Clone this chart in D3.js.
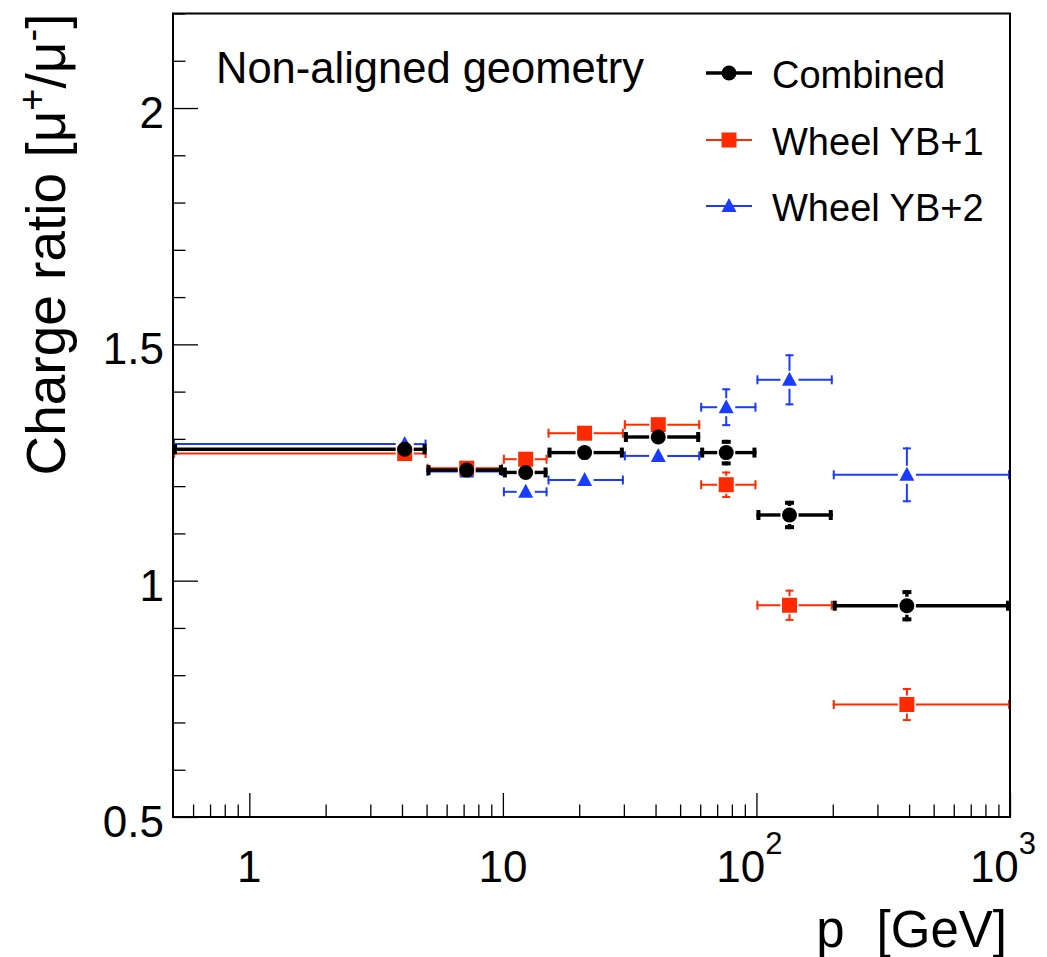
<!DOCTYPE html>
<html>
<head>
<meta charset="utf-8">
<script src="https://cdn.jsdelivr.net/npm/d3@7"></script>
<style>
  html, body { margin: 0; padding: 0; background: #fff; }
  svg { display: block; font-family: "Liberation Sans", Arial, Helvetica, sans-serif; }
</style>
</head>
<body>
<div id="chart"></div>
<script>
// ── Data ────────────────────────────────────────────────────────
const binLow  = [0.5, 5, 10, 15, 30, 60, 100, 200];
const binHigh = [5, 10, 15, 30, 60, 100, 200, 1000];
const pMean   = [4.1, 7.2, 12.3, 21, 41, 76, 135, 392];

const combinedRatio = [1.278, 1.234, 1.229, 1.271, 1.304, 1.271, 1.139, 0.947];
const combinedErr   = [0.008, 0.008, 0.010, 0.010, 0.012, 0.027, 0.030, 0.033];
const yb1Ratio      = [1.269, 1.238, 1.257, 1.312, 1.330, 1.203, 0.948, 0.738];
const yb1Err        = [0.008, 0.010, 0.012, 0.012, 0.014, 0.028, 0.033, 0.035];
const yb2Ratio      = [1.289, 1.231, 1.188, 1.213, 1.264, 1.367, 1.425, 1.224];
const yb2Err        = [0.008, 0.010, 0.012, 0.012, 0.021, 0.040, 0.054, 0.058];

const seriesNames = ['Combined', 'Wheel YB+1', 'Wheel YB+2'];
const yMajorTicks = [0.5, 1, 1.5, 2];
const yMinorTicks = [0.6, 0.7, 0.8, 0.9, 1.1, 1.2, 1.3, 1.4, 1.6, 1.7, 1.8, 1.9, 2.1, 2.2];
const xMajorTicks = [1, 10, 100, 1000];
const xTickLabels = [['1', ''], ['10', ''], ['10', '2'], ['10', '3']];
const xMinorTicks = [0.6, 0.7, 0.8, 0.9, 2, 3, 4, 5, 6, 7, 8, 9,
  20, 30, 40, 50, 60, 70, 80, 90, 200, 300, 400, 500, 600, 700, 800, 900];

// ── Layout ──────────────────────────────────────────────────────
const W = 1047, H = 957;
const frame = { left: 173, right: 1010, top: 13.5, bottom: 817 };

const styles = [
  { color: '#000000', width: 3.4, cap: 4, marker: 'circle' },
  { color: '#ff2a00', width: 2, cap: 2, marker: 'square' },
  { color: '#1a3cff', width: 2, cap: 2, marker: 'triangle' },
];

const series = [
  { name: seriesNames[1], ratio: yb1Ratio, err: yb1Err, style: styles[1] },
  { name: seriesNames[2], ratio: yb2Ratio, err: yb2Err, style: styles[2] },
  { name: seriesNames[0], ratio: combinedRatio, err: combinedErr, style: styles[0] },
];

const svg = d3.select('#chart').append('svg')
  .attr('width', W).attr('height', H)
  .attr('viewBox', `0 0 ${W} ${H}`);

const x = d3.scaleLog().domain([0.5, 1000]).range([frame.left, frame.right]);
const y = d3.scaleLinear().domain([0.5, 2.2]).range([frame.bottom, frame.top]);

// ── Markers ─────────────────────────────────────────────────────
const HALF = 7.5;

function drawMarker(g, type, cx, cy, color) {
  if (type === 'circle') {
    g.append('circle').attr('cx', cx).attr('cy', cy).attr('r', HALF).attr('fill', color);
  } else if (type === 'square') {
    g.append('rect').attr('x', cx - HALF).attr('y', cy - HALF)
      .attr('width', 2 * HALF).attr('height', 2 * HALF).attr('fill', color);
  } else {
    const path = d3.path();
    path.moveTo(cx, cy - 8);
    path.lineTo(cx + 7.5, cy + 6);
    path.lineTo(cx - 7.5, cy + 6);
    path.closePath();
    g.append('path').attr('d', path.toString()).attr('fill', color);
  }
}

// ── Data points with error bars ─────────────────────────────────
const gap = 1.5;
const plot = svg.append('g').attr('class', 'points');

series.forEach(s => {
  const g = plot.append('g').attr('class', 'series');
  const st = s.style;
  const capLen = st.marker === 'circle' ? 10 : 9;

  pMean.forEach((p, i) => {
    const px = x(p), py = y(s.ratio[i]);
    const xl = x(binLow[i]), xh = x(binHigh[i]);

    const line = (x1, y1, x2, y2, w) => g.append('line')
      .attr('x1', x1).attr('y1', y1).attr('x2', x2).attr('y2', y2)
      .attr('stroke', st.color).attr('stroke-width', w);

    // horizontal bars (gap around the marker)
    line(xl, py, px - HALF - gap, py, st.width);
    line(px + HALF + gap, py, xh, py, st.width);
    // end caps
    line(xl + st.cap / 2, py - capLen / 2, xl + st.cap / 2, py + capLen / 2, st.cap);
    line(xh - st.cap / 2, py - capLen / 2, xh - st.cap / 2, py + capLen / 2, st.cap);

    // vertical error bars
    const ey = y(s.ratio[i] - s.err[i]) - py;
    if (ey > HALF + gap + 1) {
      [-1, 1].forEach(d => {
        line(px, py + d * (HALF + gap), px, py + d * ey, st.width);
        line(px - capLen / 2 + 0.5, py + d * (ey - st.cap / 2), px + capLen / 2 - 0.5, py + d * (ey - st.cap / 2), st.cap);
      });
    }

    drawMarker(g, st.marker, px, py, st.color);
  });
});

// ── Frame and axes ──────────────────────────────────────────────
svg.append('rect')
  .attr('x', frame.left).attr('y', frame.top)
  .attr('width', frame.right - frame.left).attr('height', frame.bottom - frame.top)
  .attr('fill', 'none').attr('stroke', '#000').attr('stroke-width', 2);

const yAxisG = svg.append('g').attr('transform', `translate(${frame.left},0)`);
yAxisG.call(d3.axisLeft(y).tickValues(yMajorTicks).tickSize(-25).tickFormat(''));
yAxisG.append('g').call(d3.axisLeft(y).tickValues(yMinorTicks).tickSize(-12.5).tickFormat(''));
yAxisG.selectAll('.domain').remove();
yAxisG.selectAll('.tick line').attr('stroke', '#000').attr('stroke-width', 1.3);

const xAxisG = svg.append('g').attr('transform', `translate(0,${frame.bottom})`);
xAxisG.call(d3.axisBottom(x).tickValues(xMajorTicks).tickSize(-24).tickFormat(''));
xAxisG.append('g').call(d3.axisBottom(x).tickValues(xMinorTicks).tickSize(-12.5).tickFormat(''));
xAxisG.selectAll('.domain').remove();
xAxisG.selectAll('.tick line').attr('stroke', '#000').attr('stroke-width', 1.3);

// tick labels
svg.append('g').selectAll('text').data(yMajorTicks).join('text')
  .attr('x', 164).attr('y', d => y(d) + 20)
  .attr('text-anchor', 'end').attr('font-size', 44)
  .text(d => d);

const xl = svg.append('g').selectAll('text').data(xMajorTicks).join('text')
  .attr('x', (d, i) => x(d) + (xTickLabels[i][1] ? -7 : 0))
  .attr('y', 882)
  .attr('text-anchor', 'middle').attr('font-size', 44);
xl.append('tspan').text((d, i) => xTickLabels[i][0]);
xl.append('tspan').attr('dy', -28).attr('font-size', 31).text((d, i) => xTickLabels[i][1]);

// axis titles
const xt = svg.append('text')
  .attr('x', 1007).attr('y', 947)
  .attr('text-anchor', 'end').attr('font-size', 51);
xt.append('tspan').text('p');
xt.append('tspan').attr('dx', 32).text('[GeV]');

const yt = svg.append('text')
  .attr('transform', `translate(65,${frame.top}) rotate(-90)`)
  .attr('text-anchor', 'end').attr('font-size', 55);
yt.append('tspan').text('Charge ratio [μ');
yt.append('tspan').attr('dy', -20).attr('font-size', 38).text('+');
yt.append('tspan').attr('dy', 20).text('/μ');
yt.append('tspan').attr('dy', -20).attr('font-size', 38).text('-');
yt.append('tspan').attr('dy', 20).text(']');

// annotation
svg.append('text')
  .attr('x', 216).attr('y', 83)
  .attr('font-size', 43.5)
  .text('Non-aligned geometry');

// ── Legend ──────────────────────────────────────────────────────
const legendY = [73, 140, 206];
const legend = svg.append('g').attr('class', 'legend');
styles.forEach((st, i) => {
  const g = legend.append('g');
  g.append('line').attr('x1', 706).attr('x2', 752)
    .attr('y1', legendY[i]).attr('y2', legendY[i])
    .attr('stroke', st.color).attr('stroke-width', st.width);
  drawMarker(g, st.marker, 729, legendY[i], st.color);
  g.append('text').attr('x', 772).attr('y', legendY[i] + 15)
    .attr('font-size', 38).text(seriesNames[i]);
});
</script>
</body>
</html>
